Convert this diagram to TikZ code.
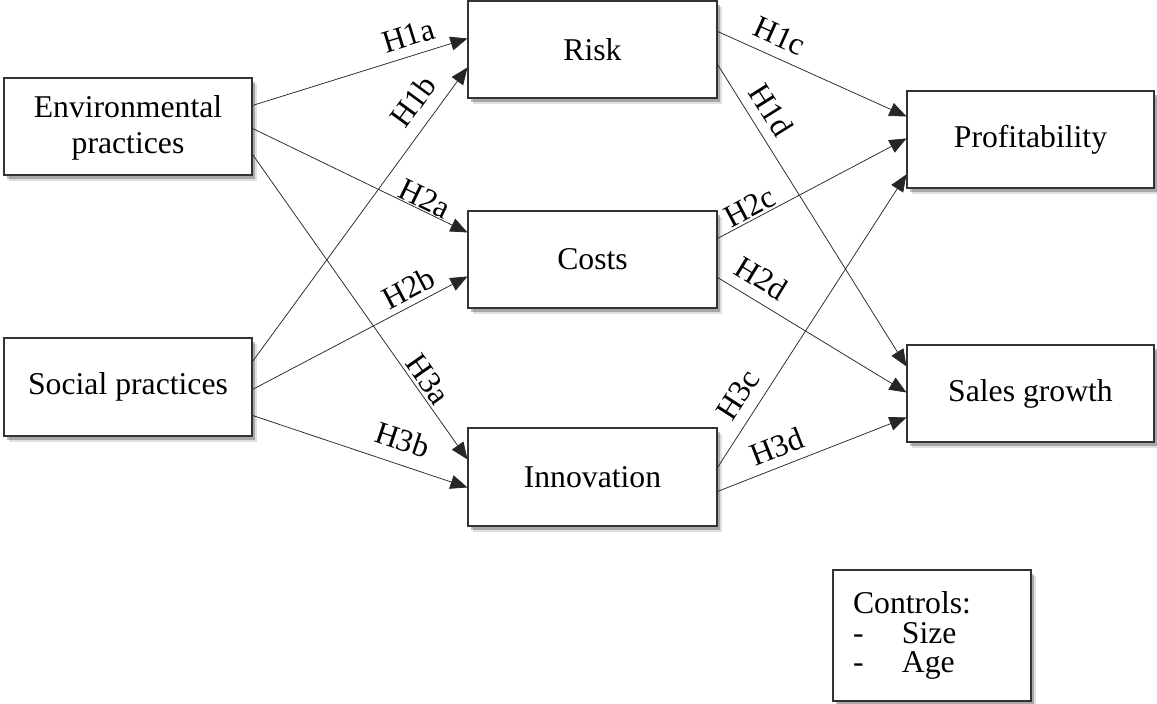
\documentclass[tikz,border=0pt]{standalone}
\usepackage{fontspec}
\setmainfont{Liberation Serif}
\usetikzlibrary{arrows.meta,shadows}
\begin{document}
\begin{tikzpicture}[x=1pt,y=-1pt,
  box/.style={draw=black!80, line width=1.1pt, fill=white, rectangle, inner sep=0pt,
    font=\fontsize{31.7pt}{36pt}\selectfont, align=center,
    drop shadow={shadow xshift=3pt, shadow yshift=-4pt, fill=black, opacity=0.25},
    drop shadow={shadow xshift=5pt, shadow yshift=-6pt, fill=black, opacity=0.12}},
  conn/.style={draw=black!85, line width=0.75pt, -{Triangle[length=17pt,width=14pt]}},
  lab/.style={sloped, font=\fontsize{31.7pt}{38pt}\selectfont, inner sep=0pt}
]
\useasboundingbox (0,0) rectangle (1157,704);

\node[box, minimum width=248pt, minimum height=97pt] (env) at (128,126.5) {\rule{0pt}{24pt}Environmental\\practices};
\node[box, minimum width=248pt, minimum height=98pt] (soc) at (128,387) {Social practices};
\node[box, minimum width=249pt, minimum height=97pt] (risk) at (592.5,49.5) {Risk};
\node[box, minimum width=249pt, minimum height=97pt] (cost) at (592.5,259.5) {Costs};
\node[box, minimum width=249pt, minimum height=98pt] (inno) at (592.5,477) {Innovation};
\node[box, minimum width=247pt, minimum height=97pt] (prof) at (1030.5,139.5) {Profitability};
\node[box, minimum width=247pt, minimum height=97pt] (sale) at (1030.5,393.5) {Sales growth};
\node[box, minimum width=198pt, minimum height=131pt, text width=158pt, align=left,
  font=\fontsize{31.7pt}{29.5pt}\selectfont] (ctrl) at (932,635.5)
  {Controls:\\\makebox[49pt][l]{-}Size\\\makebox[49pt][l]{-}Age};

% left to middle
\draw[conn] ([yshift=-28pt]env.north east) -- node[lab, pos=0.752, above=9pt] {H1a} ([yshift=-38pt]risk.north west);
\draw[conn] ([yshift=-24pt]soc.north east) -- node[lab, pos=0.837, above=12.5pt] {H1b} ([yshift=-67pt]risk.north west);
\draw[conn] ([yshift=-51pt]env.north east) -- node[lab, pos=0.778, above=0.5pt] {H2a} ([yshift=-22pt]cost.north west);
\draw[conn] ([yshift=-52pt]soc.north east) -- node[lab, pos=0.762, above=6pt] {H2b} ([yshift=-66pt]cost.north west);
\draw[conn] ([yshift=-77pt]env.north east) -- node[lab, pos=0.763, above=3pt] {H3a} ([yshift=-32pt]inno.north west);
\draw[conn] ([yshift=-78pt]soc.north east) -- node[lab, pos=0.662, above=13pt] {H3b} ([yshift=-60pt]inno.north west);

% middle to right
\draw[conn] ([yshift=-31pt]risk.north east) -- node[lab, pos=0.282, above=10pt] {H1c} ([yshift=-26pt]prof.north west);
\draw[conn] ([yshift=-64pt]risk.north east) -- node[lab, pos=0.188, above=10pt] {H1d} ([yshift=-22pt]sale.north west);
\draw[conn] ([yshift=-28pt]cost.north east) -- node[lab, pos=0.203, above=1.5pt] {H2c} ([yshift=-48pt]prof.north west);
\draw[conn] ([yshift=-67pt]cost.north east) -- node[lab, pos=0.172, above=11pt] {H2d} ([yshift=-48pt]sale.north west);
\draw[conn] ([yshift=-40pt]inno.north east) -- node[lab, pos=0.206, above=11pt] {H3c} ([yshift=-84pt]prof.north west);
\draw[conn] ([yshift=-64pt]inno.north east) -- node[lab, pos=0.353, above=8.5pt] {H3d} ([yshift=-73pt]sale.north west);
\end{tikzpicture}
\end{document}
